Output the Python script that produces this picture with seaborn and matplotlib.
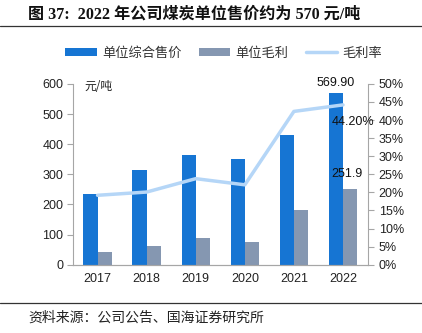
import matplotlib
matplotlib.use("Agg")
import matplotlib.pyplot as plt
import seaborn as sns
import pandas as pd
import numpy as np
from matplotlib.patches import Patch
from matplotlib.lines import Line2D
from matplotlib.ticker import FuncFormatter, FixedLocator

sns.set_theme(style="white")
plt.rcParams['font.family'] = ['Liberation Sans', 'Noto Sans CJK SC', 'DejaVu Sans']

years = ["2017", "2018", "2019", "2020", "2021", "2022"]
price = [234, 314, 365, 352, 432, 569.90]
profit = [42, 61, 88, 76, 182, 251.9]
margin = [19.2, 20.1, 23.8, 22.1, 42.4, 44.2]

s_price = "单位综合售价"
s_profit = "单位毛利"
s_margin = "毛利率"

c_blue = "#1675D3"
c_gray = "#8597B1"
c_line = "#B5D6F7"
c_axis = "#A6A6A6"

df = pd.DataFrame({
    "year": years * 2,
    "value": price + profit,
    "series": [s_price] * len(years) + [s_profit] * len(years),
})
dm = pd.DataFrame({"year": years, "margin": margin})

fig = plt.figure(figsize=(4.22, 3.33), dpi=100)
ax = fig.add_axes([0.173, 0.205, 0.698, 0.543])

sns.barplot(data=df, x="year", y="value", hue="series", ax=ax,
            palette=[c_blue, c_gray], width=0.58, saturation=1,
            edgecolor="none", legend=False)
ax.set_ylim(0, 600)
ax.set_yticks(np.arange(0, 601, 100))
ax.set_xlabel("")
ax.set_ylabel("")

ax2 = ax.twinx()
sns.pointplot(data=dm, x="year", y="margin", ax=ax2, color=c_line,
              marker="", linewidth=2.5, errorbar=None)
ax2.set_ylim(0, 50)
ax2.set_yticks(np.arange(0, 51, 5))
ax2.yaxis.set_major_formatter(FuncFormatter(lambda v, p: f"{v:.0f}%"))
ax2.set_ylabel("")
ax2.set_xlabel("")
ax.set_xlim(-0.5, len(years) - 0.5)

for a in (ax, ax2):
    for sp in a.spines.values():
        sp.set_color(c_axis)
        sp.set_linewidth(0.8)
    a.spines["top"].set_visible(False)
    a.tick_params(colors="#222222", labelsize=9, length=4, width=0.8)
    a.grid(False)
ax2.spines["left"].set_visible(False)
ax.spines["right"].set_visible(False)
ax.tick_params(axis="y", direction="out", color=c_axis, pad=3)
ax2.tick_params(axis="y", direction="out", color=c_axis, pad=4)
ax.tick_params(axis="x", length=0, pad=6)
ax.xaxis.set_minor_locator(FixedLocator(np.arange(-0.5, len(years), 1.0)))
ax.tick_params(axis="x", which="minor", length=4, color=c_axis, width=0.8)

# annotations
n = len(years) - 1
ax.annotate(f"{price[-1]:.2f}", xy=(n - 0.145, price[-1]), xytext=(0, 3),
            textcoords="offset points", ha="center", va="bottom", fontsize=9, color="#111111")
ax.annotate(f"{profit[-1]:.1f}", xy=(n + 0.145, profit[-1]), xytext=(-2, 6),
            textcoords="offset points", ha="center", va="bottom", fontsize=9, color="#111111")
ax2.annotate(f"{margin[-1]:.2f}%", xy=(n, margin[-1]), xytext=(7, -12),
             textcoords="offset points", ha="center", va="center", fontsize=9, color="#111111")

ax.text(0.04, 0.985, "元/吨", transform=ax.transAxes, ha="left", va="center",
        fontsize=8.5, color="#222222", family=['Noto Sans CJK SC', 'DejaVu Sans'])

handles = [Patch(facecolor=c_blue, edgecolor="none"),
           Patch(facecolor=c_gray, edgecolor="none"),
           Line2D([0], [0], color=c_line, lw=2.5)]
leg = fig.legend(handles, [s_price, s_profit, s_margin], loc="center",
                 bbox_to_anchor=(0.53, 0.84), ncol=3, frameon=False,
                 handlelength=2.4, handleheight=0.6, columnspacing=1.3, handletextpad=0.4,
                 prop={'family': ['Noto Sans CJK SC', 'DejaVu Sans'], 'size': 9.5})
for t in leg.get_texts():
    t.set_color("#333333")

fig.text(0.067, 0.955, "图 37:  2022 年公司煤炭单位售价约为 570 元/吨", ha="left", va="center",
         fontsize=11.6, fontweight="bold", color="#111111",
         family=['Liberation Serif', 'Noto Sans CJK SC'])
fig.add_artist(Line2D([0.0, 1.0], [0.922, 0.922], color="#333333", lw=0.9, transform=fig.transFigure))
fig.add_artist(Line2D([0.0, 1.0], [0.09, 0.09], color="#333333", lw=0.9, transform=fig.transFigure))
fig.text(0.067, 0.045, "资料来源：公司公告、国海证券研究所", ha="left", va="center",
         fontsize=10, color="#222222", family=['Noto Sans CJK SC', 'DejaVu Sans'])

fig.savefig("out.png", dpi=100)
